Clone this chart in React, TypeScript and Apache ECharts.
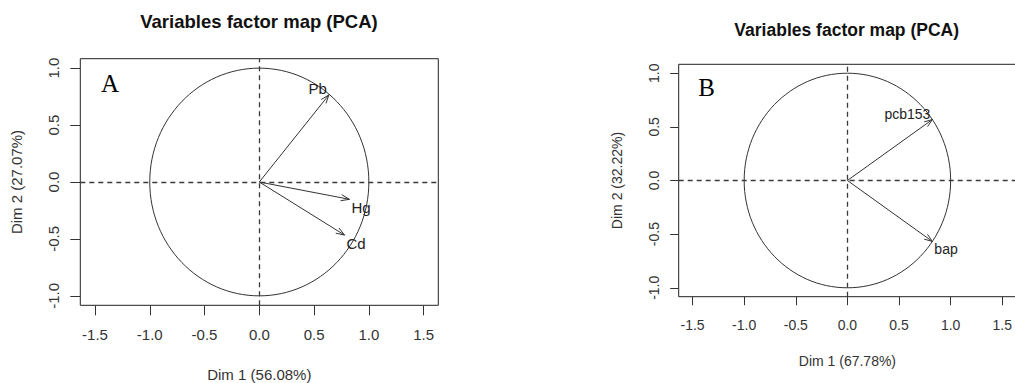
import React, { useEffect, useRef } from "react";
import * as echarts from "echarts";

// ---- data ----
const xTicks = [-1.5, -1.0, -0.5, 0.0, 0.5, 1.0, 1.5];
const yTicks = [-1.0, -0.5, 0.0, 0.5, 1.0];
const circleRadius = 1;

const titleText = "Variables factor map (PCA)";

const varsA = ["Pb", "Hg", "Cd"];
const dim1A = [0.635, 0.823, 0.778];
const dim2A = [0.765, -0.152, -0.466];
const xNameA = "Dim 1 (56.08%)";
const yNameA = "Dim 2 (27.07%)";

const varsB = ["pcb153", "bap"];
const dim1B = [0.823, 0.823];
const dim2B = [0.568, -0.568];
const xNameB = "Dim 1 (67.78%)";
const yNameB = "Dim 2 (32.22%)";

const FONT = '"Liberation Sans", Arial, Helvetica, sans-serif';
const SERIF = '"Liberation Serif", "Times New Roman", serif';

type Layout = {
  gridLeft: number;
  gridTop: number;
  gridWidth: number;
  gridHeight: number;
  xMin: number;
  xMax: number;
  yMin: number;
  yMax: number;
  titleX: number;
  titleTop: number;
  titleSize: number;
  fs: number;
  tickLen: number;
  xLabelMargin: number;
  yLabelMargin: number;
  xNameGap: number;
  yNameGap: number;
  letter: string;
  letterX: number;
  letterY: number;
  letterSize: number;
  headLen: number;
};

function buildOption(
  names: string[],
  d1: number[],
  d2: number[],
  xName: string,
  yName: string,
  L: Layout
) {
  const fmt = (v: number) => v.toFixed(1);
  return {
    animation: false,
    backgroundColor: "#ffffff",
    title: {
      text: titleText,
      left: L.titleX,
      top: L.titleTop,
      textAlign: "center",
      padding: 0,
      textStyle: {
        fontFamily: FONT,
        fontSize: L.titleSize,
        fontWeight: "bold",
        color: "#111",
      },
    },
    grid: {
      left: L.gridLeft,
      top: L.gridTop,
      width: L.gridWidth,
      height: L.gridHeight,
      containLabel: false,
      outerBoundsMode: "none",
      show: true,
      borderColor: "#222",
      borderWidth: 1,
      backgroundColor: "transparent",
    },
    xAxis: {
      type: "value",
      min: L.xMin,
      max: L.xMax,
      name: xName,
      nameLocation: "middle",
      nameGap: L.xNameGap,
      nameTextStyle: { fontFamily: FONT, fontSize: L.fs, color: "#333" },
      axisLine: { show: false, onZero: false },
      splitLine: { show: false },
      axisTick: {
        show: true,
        length: L.tickLen,
        customValues: xTicks,
        lineStyle: { color: "#333", width: 1 },
      },
      axisLabel: {
        customValues: xTicks,
        formatter: fmt,
        margin: L.xLabelMargin,
        fontFamily: FONT,
        fontSize: L.fs,
        color: "#333",
      },
    },
    yAxis: {
      type: "value",
      min: L.yMin,
      max: L.yMax,
      name: yName,
      nameLocation: "middle",
      nameRotate: 90,
      nameGap: L.yNameGap,
      nameTextStyle: { fontFamily: FONT, fontSize: L.fs, color: "#333" },
      axisLine: { show: false, onZero: false },
      splitLine: { show: false },
      axisTick: {
        show: true,
        length: L.tickLen,
        customValues: yTicks,
        lineStyle: { color: "#333", width: 1 },
      },
      axisLabel: {
        customValues: yTicks,
        formatter: fmt,
        rotate: 90,
        margin: L.yLabelMargin,
        fontFamily: FONT,
        fontSize: L.fs,
        color: "#333",
      },
    },
    graphic: [
      {
        type: "text",
        x: L.letterX,
        y: L.letterY,
        style: {
          text: L.letter,
          fontFamily: SERIF,
          fontSize: L.letterSize,
          fill: "#000",
          align: "center",
          verticalAlign: "middle",
        },
      },
    ],
    series: [
      {
        type: "scatter",
        data: [[0, 0]],
        symbolSize: 0,
        silent: true,
        markLine: {
          silent: true,
          symbol: ["none", "none"],
          label: { show: false },
          lineStyle: { color: "#3a3a3a", width: 1.3, type: [5, 4] },
          data: [{ xAxis: 0 }, { yAxis: 0 }],
        },
      },
      {
        type: "custom",
        silent: true,
        data: [[0, 0, circleRadius]],
        renderItem: (_p: any, api: any) => {
          const c = api.coord([api.value(0), api.value(1)]);
          const r = api.value(2);
          const px = api.coord([r, 0]);
          const py = api.coord([0, r]);
          return {
            type: "ellipse",
            shape: { cx: c[0], cy: c[1], rx: px[0] - c[0], ry: c[1] - py[1] },
            style: { fill: "none", stroke: "#333", lineWidth: 1 },
          };
        },
      },
      {
        type: "custom",
        silent: true,
        data: d1.map((x, i) => [x, d2[i], i]),
        renderItem: (params: any, api: any) => {
          const o = api.coord([0, 0]);
          const t = api.coord([api.value(0), api.value(1)]);
          const ang = Math.atan2(t[1] - o[1], t[0] - o[0]);
          const a = (20 * Math.PI) / 180;
          const h = L.headLen;
          const h1 = [t[0] - h * Math.cos(ang - a), t[1] - h * Math.sin(ang - a)];
          const h2 = [t[0] - h * Math.cos(ang + a), t[1] - h * Math.sin(ang + a)];
          const up = api.value(1) > 0;
          return {
            type: "group",
            children: [
              {
                type: "line",
                shape: { x1: o[0], y1: o[1], x2: t[0], y2: t[1] },
                style: { stroke: "#333", lineWidth: 1 },
              },
              {
                type: "polyline",
                shape: { points: [h1, t, h2] },
                style: { stroke: "#333", fill: "none", lineWidth: 1 },
              },
              {
                type: "text",
                x: up ? t[0] - 2 : t[0] + 2,
                y: up ? t[1] - 6 : t[1] + 8,
                style: {
                  text: names[params.dataIndex],
                  fontFamily: FONT,
                  fontSize: L.fs,
                  fill: "#222",
                  align: up ? "right" : "left",
                  verticalAlign: "middle",
                },
              },
            ],
          };
        },
      },
    ],
  };
}

const OFF_A = 0;
const OFF_B = 600;

const layoutA: Layout = {
  gridLeft: 80.3 - OFF_A,
  gridTop: 58.7,
  gridWidth: 358,
  gridHeight: 246.6,
  xMin: -1.634,
  xMax: 1.634,
  yMin: -1.083,
  yMax: 1.083,
  titleX: 259 - OFF_A,
  titleTop: 12,
  titleSize: 18.5,
  fs: 15,
  tickLen: 10,
  xLabelMargin: 22,
  yLabelMargin: 19,
  xNameGap: 62,
  yNameGap: 56,
  letter: "A",
  letterX: 110 - OFF_A,
  letterY: 83,
  letterSize: 25,
  headLen: 9,
};

const layoutB: Layout = {
  gridLeft: 678.7 - OFF_B,
  gridTop: 64.3,
  gridWidth: 1016.1 - 678.7,
  gridHeight: 232.4,
  xMin: -1.634,
  xMax: 1.634,
  yMin: -1.083,
  yMax: 1.083,
  titleX: 846.7 - OFF_B,
  titleTop: 20.5,
  titleSize: 17.5,
  fs: 14,
  tickLen: 8.5,
  xLabelMargin: 21,
  yLabelMargin: 18,
  xNameGap: 57,
  yNameGap: 55,
  letter: "B",
  letterX: 706.7 - OFF_B,
  letterY: 87,
  letterSize: 25,
  headLen: 8.5,
};

export default function App() {
  const refA = useRef<HTMLDivElement>(null);
  const refB = useRef<HTMLDivElement>(null);

  useEffect(() => {
    const ca = echarts.init(refA.current!, undefined, { renderer: "svg" });
    const cb = echarts.init(refB.current!, undefined, { renderer: "svg" });
    ca.setOption(buildOption(varsA, dim1A, dim2A, xNameA, yNameA, layoutA) as any);
    cb.setOption(buildOption(varsB, dim1B, dim2B, xNameB, yNameB, layoutB) as any);
    return () => {
      ca.dispose();
      cb.dispose();
    };
  }, []);

  return (
    <div
      style={{
        position: "absolute",
        left: 0,
        top: 0,
        width: 1015,
        height: 383,
        background: "#fff",
        overflow: "hidden",
      }}
    >
      <div
        ref={refA}
        style={{ position: "absolute", left: OFF_A, top: 0, width: 500, height: 383 }}
      />
      <div
        ref={refB}
        style={{ position: "absolute", left: OFF_B, top: 0, width: 1015 - OFF_B, height: 383 }}
      />
    </div>
  );
}
